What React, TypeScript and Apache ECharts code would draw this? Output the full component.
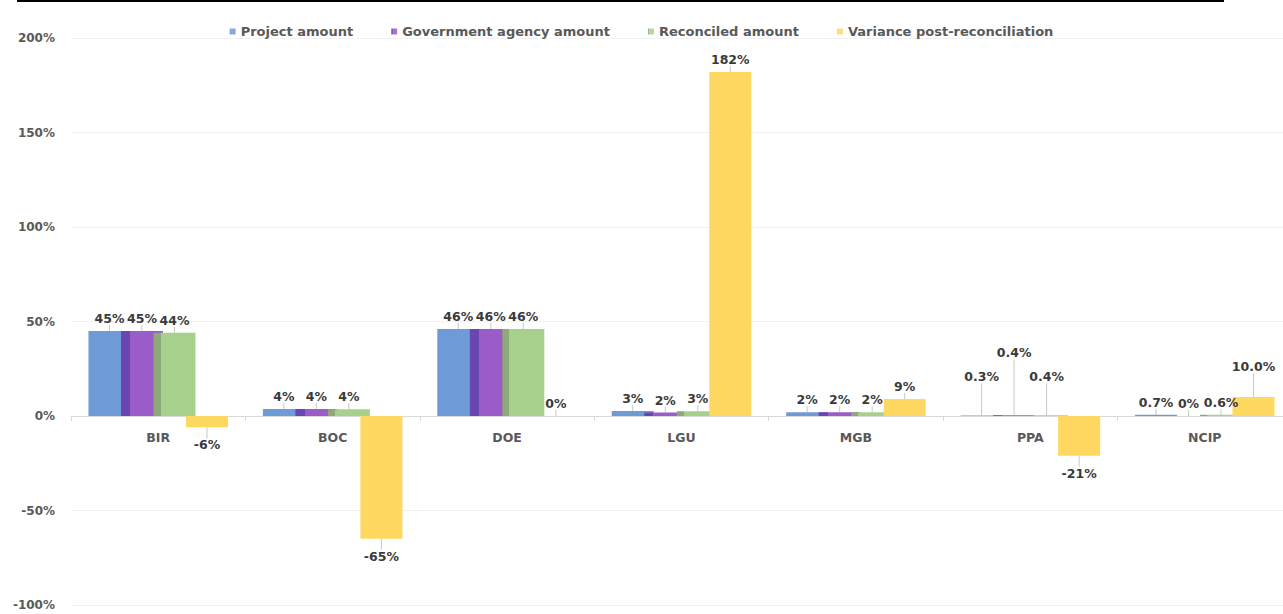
import React, { useEffect, useRef } from "react";
import * as echarts from "echarts";

const categories = ["BIR", "BOC", "DOE", "LGU", "MGB", "PPA", "NCIP"];
const seriesNames = [
  "Project amount",
  "Government agency amount",
  "Reconciled amount",
  "Variance post-reconciliation",
];
const projectAmount = [45, 3.7, 46, 2.6, 2, 0.3, 0.7];
const governmentAmount = [45, 3.7, 46, 1.8, 2, 0.4, 0];
const reconciledAmount = [44, 3.6, 46, 2.5, 2, 0.4, 0.6];
const variance = [-6, -65, 0, 182, 9, -21, 10.0];

const projectLabels = ["45%", "4%", "46%", "3%", "2%", "0.3%", "0.7%"];
const governmentLabels = ["45%", "4%", "46%", "2%", "2%", "0.4%", "0%"];
const reconciledLabels = ["44%", "4%", "46%", "3%", "2%", "0.4%", "0.6%"];
const varianceLabels = ["-6%", "-65%", "0%", "182%", "9%", "-21%", "10.0%"];

const yTicks = { min: -100, max: 200, interval: 50 };

// label lifts (with leader lines): [seriesIndex, dataIndex, dy]
const lifts: [number, number, number][] = [
  [0, 5, -26],
  [1, 5, -50],
  [2, 5, -26],
  [3, 6, -18],
];

const colors = ["#6f9ad8", "#9a5cc6", "#a8d08d", "#ffd862"];
const darkEdge = ["#6f9ad8", "#6b45b0", "#8ea877", "#ffd862"];
const FONT = "DejaVu Sans";

export default function App() {
  const ref = useRef<HTMLDivElement>(null);
  useEffect(() => {
    if (!ref.current) return;
    const chart = echarts.init(ref.current, undefined, { renderer: "svg" });
    const values = [projectAmount, governmentAmount, reconciledAmount, variance];
    const labels = [projectLabels, governmentLabels, reconciledLabels, varianceLabels];

    const series = values.map((arr, si) => {
      const fill =
        si === 1 || si === 2
          ? new echarts.graphic.LinearGradient(0, 0, 1, 0, [
              { offset: 0, color: darkEdge[si] },
              { offset: si === 1 ? 0.22 : 0.17, color: darkEdge[si] },
              { offset: si === 1 ? 0.22 : 0.17, color: colors[si] },
              { offset: 1, color: colors[si] },
            ])
          : colors[si];
      return {
        name: seriesNames[si],
        type: "bar",
        barWidth: 42,
        barGap: "-22.6%",
        itemStyle: { color: fill },
        data: arr.map((v) => ({
          value: v,
          label: { position: v < 0 ? "bottom" : "top", distance: v < 0 ? 11 : 6 },
        })),
        label: {
          show: true,
          formatter: (p: any) => labels[si][p.dataIndex],
          color: "#3a3a3a",
          fontFamily: FONT,
          fontWeight: "bold",
          fontSize: 12.5,
        },
        labelLine: { show: true, lineStyle: { color: "#c8c8c8", width: 1 } },
        labelLayout: (p: any) => {
          const f = lifts.find((l) => l[0] === p.seriesIndex && l[1] === p.dataIndex);
          return f ? { dy: f[2] } : {};
        },
      };
    });

    chart.setOption({
      animation: false,
      color: colors,
      textStyle: { fontFamily: FONT },
      legend: {
        top: 20,
        left: "center",
        icon: "rect",
        itemWidth: 6,
        itemHeight: 6,
        itemGap: 38,
        itemStyle: { opacity: 0.85 },
        textStyle: { color: "#595959", fontSize: 13, fontWeight: "bold", fontFamily: FONT },
        data: seriesNames,
      },
      graphic: [
        {
          type: "rect",
          shape: { x: 17, y: 0, width: 1207, height: 2 },
          style: { fill: "#000" },
        },
      ],
      grid: { left: 71, top: 38, width: 1221, height: 567, outerBoundsMode: "none", containLabel: false },
      xAxis: {
        type: "category",
        data: categories,
        axisLine: { onZero: true, lineStyle: { color: "#d9d9d9" } },
        axisTick: { show: true, length: 5, lineStyle: { color: "#d9d9d9" } },
        axisLabel: { color: "#595959", fontSize: 12.5, fontWeight: "bold", margin: -174, fontFamily: FONT },
      },
      yAxis: {
        type: "value",
        min: yTicks.min,
        max: yTicks.max,
        interval: yTicks.interval,
        axisLine: { show: false },
        axisTick: { show: false },
        splitLine: { lineStyle: { color: "#f2f2f2" } },
        axisLabel: {
          formatter: (v: number) => `${v}%`,
          color: "#595959",
          fontSize: 12,
          fontWeight: "bold",
          margin: 16,
          fontFamily: FONT,
        },
      },
      series,
    });
    return () => chart.dispose();
  }, []);
  return <div ref={ref} style={{ width: 1283, height: 614, position: "absolute", left: 0, top: 0 }} />;
}
